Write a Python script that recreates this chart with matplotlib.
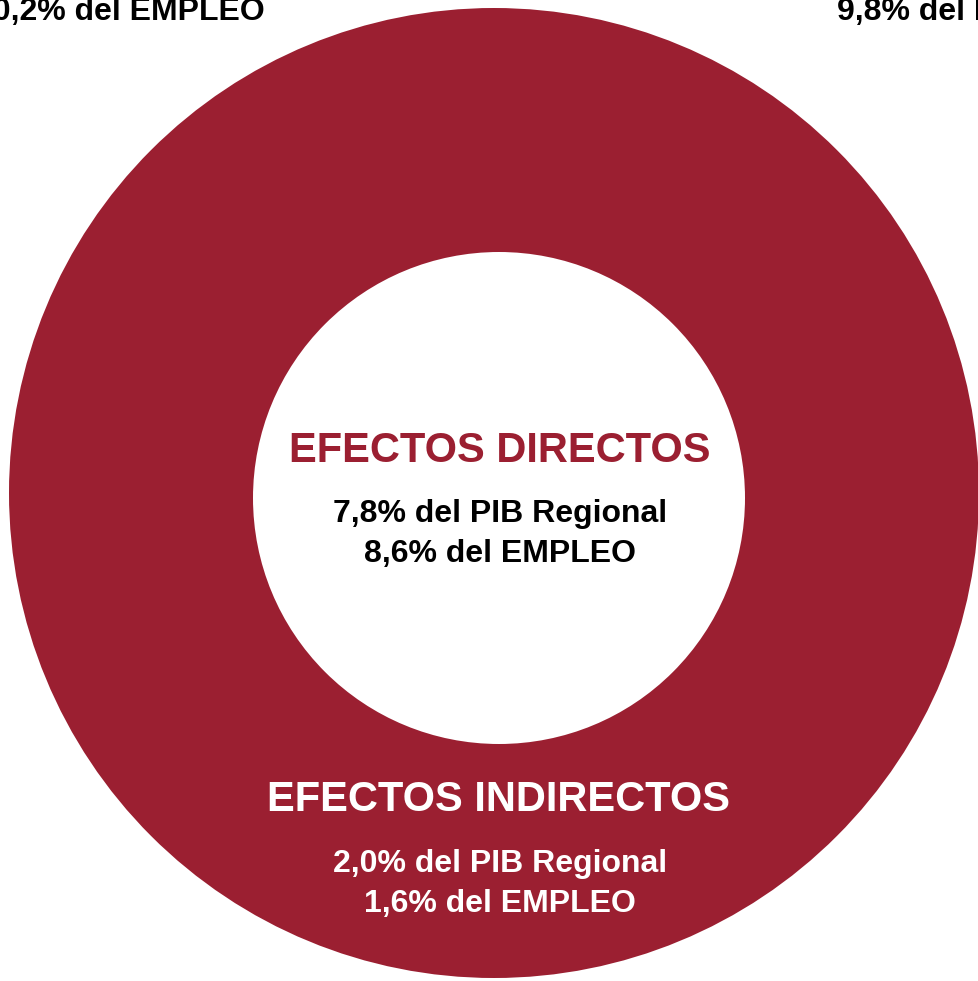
import matplotlib
matplotlib.use("Agg")
import matplotlib.pyplot as plt
from matplotlib.patches import Circle

# datos (% del PIB regional y % del empleo)
bloques = ["EFECTOS DIRECTOS", "EFECTOS INDIRECTOS"]
pib = [7.8, 2.0]
empleo = [8.6, 1.6]
total_pib = 9.8
total_empleo = 10.2

rojo = "#9b1f31"
fuente = ["Liberation Sans", "DejaVu Sans"]


def pct(v):
    return f"{v:.1f}".replace(".", ",") + "%"


fig = plt.figure(figsize=(9.79, 9.81), dpi=100)
ax = fig.add_axes([0, 0, 1, 1])
ax.set_xlim(0, 979)
ax.set_ylim(981, 0)
ax.axis("off")

# anillo exterior (indirectos) y circulo interior (directos)
ax.add_patch(Circle((494, 493), 485, color=rojo, lw=0))
ax.add_patch(Circle((499, 498), 246, color="white", lw=0))

# textos del centro
ax.text(500, 462, bloques[0], color=rojo, fontsize=30, fontweight="bold",
        family=fuente, ha="center", va="baseline")
ax.text(500, 522, f"{pct(pib[0])} del PIB Regional", color="black", fontsize=23,
        fontweight="bold", family=fuente, ha="center", va="baseline")
ax.text(500, 562, f"{pct(empleo[0])} del EMPLEO", color="black", fontsize=23,
        fontweight="bold", family=fuente, ha="center", va="baseline")

# textos del anillo
ax.text(499, 811, bloques[1], color="white", fontsize=30, fontweight="bold",
        family=fuente, ha="center", va="baseline")
ax.text(500, 872, f"{pct(pib[1])} del PIB Regional", color="white", fontsize=23,
        fontweight="bold", family=fuente, ha="center", va="baseline")
ax.text(500, 912, f"{pct(empleo[1])} del EMPLEO", color="white", fontsize=23,
        fontweight="bold", family=fuente, ha="center", va="baseline")

# totales (cortados arriba, como en el original)
ax.text(265, 20, f"{pct(total_empleo)} del EMPLEO", color="black", fontsize=23,
        fontweight="bold", family=fuente, ha="right", va="baseline")
ax.text(837, 20, f"{pct(total_pib)} del PIB Regional", color="black", fontsize=23,
        fontweight="bold", family=fuente, ha="left", va="baseline")

fig.savefig("out.png", dpi=100)
